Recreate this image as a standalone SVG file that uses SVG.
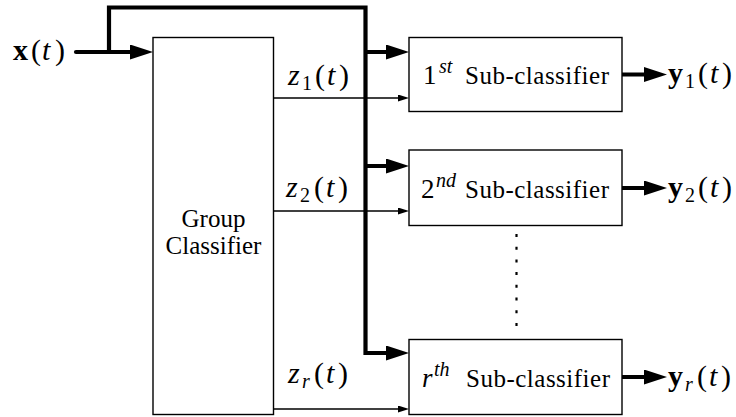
<svg xmlns="http://www.w3.org/2000/svg" width="736" height="417" viewBox="0 0 736 417">
<style>
.box{fill:#fff;stroke:#000;stroke-width:1.4}
.thick{fill:none;stroke:#000;stroke-width:4.2}
.thin{fill:none;stroke:#000;stroke-width:1.4}
text{font-family:"Liberation Serif",Tinos,"Times New Roman",Times,"Nimbus Roman","Nimbus Roman No9 L","Noto Serif","DejaVu Serif",FreeSerif,serif;fill:#000}
.t{font-size:25px}
.m{font-size:30px}
.i{font-style:italic}
.b{font-weight:bold}
.s{font-size:20px}
.dots{fill:none;stroke:#000;stroke-width:2.2;stroke-dasharray:3 9.7}
</style>
<defs>
<marker id="ahT" markerUnits="userSpaceOnUse" markerWidth="24" markerHeight="16" refX="12" refY="7.5" orient="auto" viewBox="0 0 24 16">
<path d="M0,0 L23,7.5 L0,15 z" fill="#000"/>
</marker>
<marker id="aht" markerUnits="userSpaceOnUse" markerWidth="13" markerHeight="8" refX="6" refY="3.5" orient="auto" viewBox="0 0 13 8">
<path d="M0,0 L11,3.5 L0,7 z" fill="#000"/>
</marker>
</defs>

<g id="connectors">
<path class="thick" d="M76,52 L142,52" stroke-linecap="round" marker-end="url(#ahT)"/>
<path class="thick" d="M109,52 L109,7.5 L365.5,7.5 L365.5,353 L398,353" marker-end="url(#ahT)"/>
<path class="thick" d="M365.5,52 L398,52" marker-end="url(#ahT)"/>
<path class="thick" d="M365.5,166 L398,166" marker-end="url(#ahT)"/>
<path class="thin" d="M273.5,98 L404,98" marker-end="url(#aht)"/>
<path class="thin" d="M273.5,211 L404,211" marker-end="url(#aht)"/>
<path class="thin" d="M273.5,409 L404,409" marker-end="url(#aht)"/>
<path class="thick" d="M622,74.5 L656,74.5" marker-end="url(#ahT)"/>
<path class="thick" d="M622,188 L656,188" marker-end="url(#ahT)"/>
<path class="thick" d="M622,377 L656,377" marker-end="url(#ahT)"/>
<path class="dots" d="M516.5,234 L516.5,326"/>
</g>

<g id="input-label">
<text class="m" y="60"><tspan class="b" x="13">x</tspan><tspan x="31">(</tspan><tspan class="i" x="42">t</tspan><tspan x="55">)</tspan></text>
</g>

<g id="group-classifier">
<rect class="box" x="153" y="37.5" width="120.5" height="377"/>
<text class="t" x="213.5" y="227" text-anchor="middle">Group</text>
<text class="t" x="213.5" y="254" text-anchor="middle">Classifier</text>
</g>

<g id="z-labels">
<text class="m" y="84.5"><tspan class="i" x="288">z</tspan><tspan class="s" x="302" dy="5">1</tspan><tspan x="315" dy="-5">(</tspan><tspan class="i" x="327">t</tspan><tspan x="339">)</tspan></text>
<text class="m" y="197"><tspan class="i" x="286">z</tspan><tspan class="s" x="300" dy="5">2</tspan><tspan x="314" dy="-5">(</tspan><tspan class="i" x="326">t</tspan><tspan x="338">)</tspan></text>
<text class="m" y="383"><tspan class="i" x="288">z</tspan><tspan class="s i" x="302" dy="5">r</tspan><tspan x="314" dy="-5">(</tspan><tspan class="i" x="326">t</tspan><tspan x="338">)</tspan></text>
</g>

<g id="sub1">
<rect class="box" x="409" y="37.5" width="213" height="74"/>
<text class="m" y="84" style="font-size:27px"><tspan x="423">1</tspan><tspan class="s i" x="439" dy="-11">st</tspan></text>
<text class="t" x="465" y="84" textLength="144" lengthAdjust="spacing">Sub-classifier</text>
</g>

<g id="sub2">
<rect class="box" x="409" y="150" width="213" height="75.5"/>
<text class="m" y="197.5" style="font-size:27px"><tspan x="421">2</tspan><tspan class="s i" x="436" dy="-11">nd</tspan></text>
<text class="t" x="465" y="197.5" textLength="144" lengthAdjust="spacing">Sub-classifier</text>
</g>

<g id="subr">
<rect class="box" x="409" y="339.5" width="213" height="75"/>
<text class="m i" y="386.5" style="font-size:27px"><tspan x="422">r</tspan><tspan class="s" x="434" dy="-11">th</tspan></text>
<text class="t" x="466" y="386.5" textLength="144" lengthAdjust="spacing">Sub-classifier</text>
</g>

<g id="outputs">
<text class="m" y="83"><tspan class="b" x="668">y</tspan><tspan class="s" x="685" dy="5">1</tspan><tspan x="698" dy="-5">(</tspan><tspan class="i" x="710">t</tspan><tspan x="722">)</tspan></text>
<text class="m" y="196.5"><tspan class="b" x="668">y</tspan><tspan class="s" x="685" dy="5">2</tspan><tspan x="698" dy="-5">(</tspan><tspan class="i" x="710">t</tspan><tspan x="722">)</tspan></text>
<text class="m" y="385.5"><tspan class="b" x="668">y</tspan><tspan class="s i" x="685" dy="5">r</tspan><tspan x="697" dy="-5">(</tspan><tspan class="i" x="709">t</tspan><tspan x="721">)</tspan></text>
</g>
</svg>
